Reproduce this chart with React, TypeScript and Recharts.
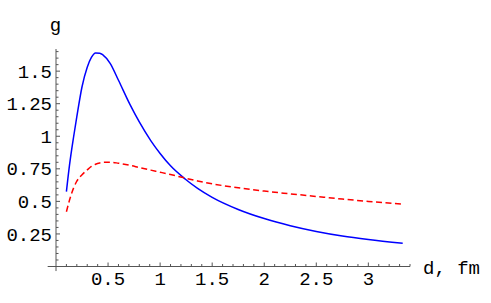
import React from "react";
import { LineChart, Line, XAxis, YAxis, ReferenceLine } from "recharts";

// distance d (fm)
const dist = [0.1, 0.13, 0.17, 0.2, 0.25, 0.3, 0.34, 0.38, 0.42, 0.45, 0.52, 0.6, 0.71, 0.8, 0.91, 1.0, 1.1, 1.24, 1.36, 1.5, 1.75, 2.0, 2.25, 2.5, 2.75, 3.0, 3.33];
// solid blue curve
const gSolid = [0.575, 0.78, 1.0, 1.15, 1.38, 1.53, 1.605, 1.64, 1.638, 1.625, 1.56, 1.43, 1.245, 1.11, 0.967, 0.868, 0.773, 0.672, 0.6, 0.531, 0.438, 0.368, 0.313, 0.269, 0.234, 0.207, 0.178];
// dashed red curve
const gDashed = [0.42, 0.51, 0.605, 0.655, 0.705, 0.742, 0.768, 0.785, 0.795, 0.799, 0.801, 0.793, 0.777, 0.76, 0.74, 0.724, 0.706, 0.679, 0.657, 0.635, 0.604, 0.579, 0.558, 0.538, 0.518, 0.5, 0.478];

const xTicks = [0.1, 0.2, 0.3, 0.4, 0.5, 0.6, 0.7, 0.8, 0.9, 1, 1.1, 1.2, 1.3, 1.4, 1.5, 1.6, 1.7, 1.8, 1.9, 2, 2.1, 2.2, 2.3, 2.4, 2.5, 2.6, 2.7, 2.8, 2.9, 3, 3.1, 3.2, 3.3, 3.4];
const yTicks = [0.05, 0.1, 0.15, 0.2, 0.25, 0.3, 0.35, 0.4, 0.45, 0.5, 0.55, 0.6, 0.65, 0.7, 0.75, 0.8, 0.85, 0.9, 0.95, 1, 1.05, 1.1, 1.15, 1.2, 1.25, 1.3, 1.35, 1.4, 1.45, 1.5, 1.55, 1.6, 1.65];

const data = dist.map((d, i) => ({ d, solid: gSolid[i], dashed: gDashed[i] }));

const FONT = "'Liberation Mono', 'Courier New', monospace";
const AXIS = "#555";

const fmt = (v: number) => String(+v.toFixed(2));

const XTick = (props: any) => {
  const { x, y, payload } = props;
  const v = payload.value;
  const major = Math.abs(v * 2 - Math.round(v * 2)) < 1e-6;
  return (
    <g>
      <line x1={x} x2={x} y1={y} y2={y - (major ? 4 : 2.5)} stroke={AXIS} />
      {major && (
        <text x={x} y={y + 18.5} textAnchor="middle" fontFamily={FONT} fontSize={19} fill="#000">
          {fmt(v)}
        </text>
      )}
    </g>
  );
};

const YTick = (props: any) => {
  const { x, y, payload } = props;
  const v = payload.value;
  const major = Math.abs(v * 4 - Math.round(v * 4)) < 1e-6;
  return (
    <g>
      <line x1={x} x2={x + (major ? 4 : 2.5)} y1={y} y2={y} stroke={AXIS} />
      {major && (
        <text x={x - 4} y={y} dy="0.35em" textAnchor="end" fontFamily={FONT} fontSize={19} fill="#000">
          {fmt(v)}
        </text>
      )}
    </g>
  );
};

export default function App() {
  return (
    <div style={{ width: 491, height: 303, background: "#fff" }}>
      <style>{`body{margin:0}`}</style>
      <LineChart width={491} height={303} data={data} margin={{ top: 49, right: 81, bottom: 35.5, left: 55 }}>
        <XAxis
          dataKey="d"
          type="number"
          domain={[0, 3.4]}
          ticks={xTicks}
          interval={0}
          tick={(p: any) => <XTick {...p} />}
          tickSize={0}
          tickMargin={0}
          axisLine={false}
          tickLine={false}
          height={1}
          label={{ value: "d, fm", position: "right", offset: 13, fontFamily: FONT, fontSize: 19, fill: "#000" }}
        />
        <YAxis
          type="number"
          domain={[0, 1.67]}
          ticks={yTicks}
          interval={0}
          tick={(p: any) => <YTick {...p} />}
          tickSize={0}
          tickMargin={0}
          axisLine={false}
          tickLine={false}
          width={1}
          label={{ value: "g", position: "top", offset: 18, fontFamily: FONT, fontSize: 19, fill: "#000" }}
        />
        <ReferenceLine segment={[{ x: -0.08, y: 0 }, { x: 3.4, y: 0 }]} ifOverflow="visible" stroke={AXIS} />
        <ReferenceLine segment={[{ x: 0, y: -0.035 }, { x: 0, y: 1.67 }]} ifOverflow="visible" stroke={AXIS} />
        <Line type="monotone" dataKey="solid" stroke="#0000ff" strokeWidth={1.5} dot={false} isAnimationActive={false} />
        <Line
          type="monotone"
          dataKey="dashed"
          stroke="#ff0000"
          strokeWidth={1.5}
          strokeDasharray="6 3.5"
          dot={false}
          isAnimationActive={false}
        />
      </LineChart>
    </div>
  );
}
